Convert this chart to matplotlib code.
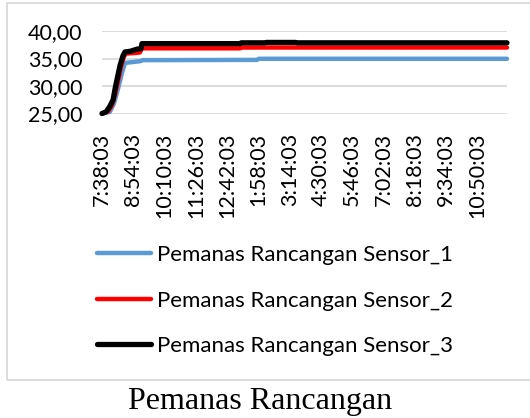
import matplotlib.pyplot as plt
from matplotlib.patches import Rectangle

# sample index (one sample per minute from 7:38:03) and temperature
idx_1 = [0, 19, 29, 39, 49, 56, 68, 92, 100, 377, 381, 984]
sensor_1 = [25.0, 25.3, 26.8, 29.5, 32.5, 34.2, 34.3, 34.5, 34.7, 34.75, 34.95, 34.95]

idx_2 = [0, 15, 24, 32, 39, 46, 53, 58, 80, 92, 97, 335, 340, 984]
sensor_2 = [25.0, 25.4, 26.5, 28.5, 31.0, 33.5, 35.3, 35.9, 36.0, 36.1, 36.85, 36.85, 37.0, 37.0]

idx_3 = [0, 10, 19, 27, 32, 36, 44, 51, 56, 68, 85, 95, 97, 335, 338, 395, 400, 470, 475, 984]
sensor_3 = [25.0, 25.3, 26.3, 27.5, 29.6, 31.0, 33.8, 35.5, 36.2, 36.3, 36.7, 36.8, 37.7, 37.7,
            37.85, 37.85, 37.92, 37.92, 37.85, 37.85]

tick_labels = ['7:38:03', '8:54:03', '10:10:03', '11:26:03', '12:42:03', '1:58:03', '3:14:03',
               '4:30:03', '5:46:03', '7:02:03', '8:18:03', '9:34:03', '10:50:03']
tick_step = 76

labels = ['Pemanas Rancangan Sensor_1', 'Pemanas Rancangan Sensor_2', 'Pemanas Rancangan Sensor_3']
colors = ['#5b9bd5', '#ff0000', '#000000']

plt.rcParams['font.family'] = ['Lato', 'DejaVu Sans']

fig = plt.figure(figsize=(5.30, 4.18), dpi=100)
ax = fig.add_axes([102 / 530, 1 - 113.5 / 418, 405 / 530, 82.5 / 418])

ax.plot(idx_1, sensor_1, color=colors[0], lw=3.2, solid_capstyle='round', label=labels[0])
ax.plot(idx_2, sensor_2, color=colors[1], lw=3.2, solid_capstyle='round', label=labels[1])
ax.plot(idx_3, sensor_3, color=colors[2], lw=3.8, solid_capstyle='round', label=labels[2])

ax.set_xlim(0, 984)
ax.set_ylim(25, 40)
ax.set_yticks([25, 30, 35, 40])
ax.set_yticklabels(['25,00', '30,00', '35,00', '40,00'])
ax.set_xticks([i * tick_step for i in range(len(tick_labels))])
ax.set_xticklabels(tick_labels, rotation=90, va='top', ha='center')
ax.tick_params(length=0, labelsize=15.5, colors='#000000')
ax.tick_params(axis='x', pad=14)
ax.tick_params(axis='y', pad=14)
ax.grid(axis='y', color='#d9d9d9', lw=1.3)
ax.set_axisbelow(True)
for s in ax.spines.values():
    s.set_visible(False)
for line in ax.get_lines():
    line.set_clip_on(False)

fig.legend(loc='upper left', bbox_to_anchor=(97 / 530, 1 - 245 / 418), frameon=False,
           fontsize=16, handlelength=2.45, handletextpad=0.25, labelspacing=1.15, borderpad=0,
           borderaxespad=0)

fig.add_artist(Rectangle((7 / 530, 1 - 380 / 418), 1.1, 377 / 418, transform=fig.transFigure,
                         fill=False, edgecolor='#d9d9d9', lw=1.3, clip_on=True))

fig.text(260 / 530, 1 - 401 / 418, 'Pemanas Rancangan', ha='center', va='center',
         family='Liberation Serif', fontsize=23)

fig.savefig('out.png', dpi=100)
